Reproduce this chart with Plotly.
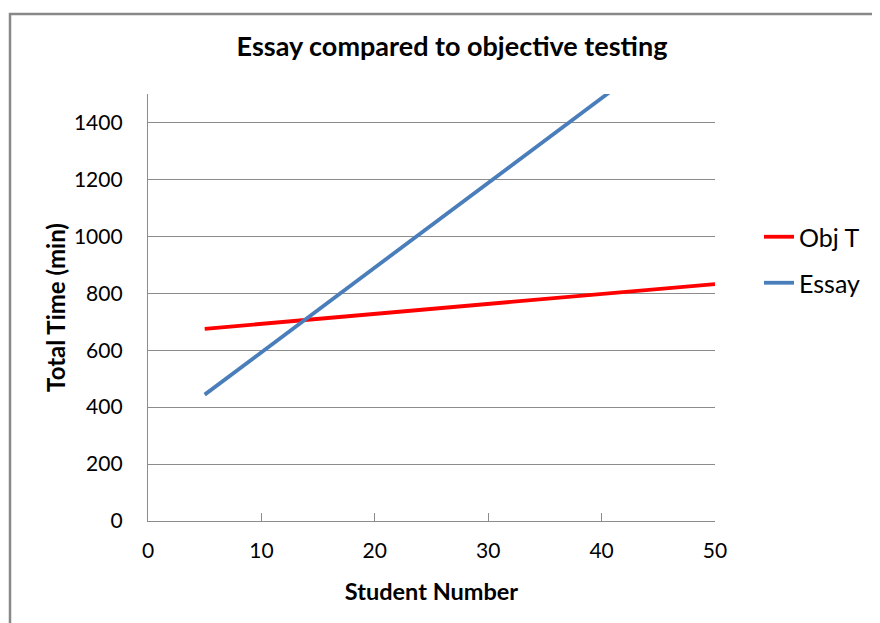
import plotly.graph_objects as go

students = [5, 10, 15, 20, 25, 30, 35, 40, 45, 50]
obj_t = [675, 692.5, 710, 727.5, 745, 762.5, 780, 797.5, 815, 832.5]
essay = [444, 593, 741, 890, 1039, 1188, 1336, 1485, 1634, 1783]

x_ticks = [0, 10, 20, 30, 40, 50]
y_ticks = [0, 200, 400, 600, 800, 1000, 1200, 1400]

OFF = 8  # page body margin
W, H = 880 - OFF, 623 - OFF
L, T = 148 - OFF, 94 - OFF
pw, ph = 567, 427
R, B = W - L - pw, H - T - ph


def px(x):
    return (x - OFF - L) / pw


def py(y):
    return (T + ph - (y - OFF)) / ph


FONT = "Lato"

fig = go.Figure()
fig.add_trace(go.Scatter(x=students, y=obj_t, mode="lines", name="Obj T",
                         line=dict(color="#FF0000", width=3.8), legend="legend"))
fig.add_trace(go.Scatter(x=students, y=essay, mode="lines", name="Essay",
                         line=dict(color="#4A7EBB", width=3.8), legend="legend2"))

leg_common = dict(xanchor="left", yanchor="middle",
                  font=dict(family=FONT, size=25, color="black"),
                  bgcolor="rgba(0,0,0,0)", borderwidth=0)

fig.update_layout(
    width=W, height=H,
    margin=dict(l=L, r=R, t=T, b=B),
    paper_bgcolor="white", plot_bgcolor="white",
    font=dict(family=FONT, color="black", size=21),
    title=dict(text="<b>Essay compared to objective testing</b>",
               xref="container", x=(452 - OFF) / W, xanchor="center",
               y=1 - (47 - OFF) / H, yanchor="middle",
               font=dict(family=FONT, size=27, color="black")),
    showlegend=True,
    legend=dict(x=px(759), y=py(237), **leg_common),
    legend2=dict(x=px(759), y=py(283), **leg_common),
    xaxis=dict(range=[0, 50], tickvals=x_ticks, showgrid=False,
               showline=True, linecolor="#8C8C8C", linewidth=1.3,
               ticks="inside", ticklen=8, tickcolor="#8C8C8C",
               tickfont=dict(size=21), zeroline=False, ticklabelstandoff=11,
               title=dict(text="<b>Student Number</b>",
                          font=dict(family=FONT, size=23.5), standoff=22)),
    yaxis=dict(range=[0, 1500], tickvals=y_ticks, showgrid=True,
               gridcolor="#8C8C8C", gridwidth=1,
               showline=True, linecolor="#8C8C8C", linewidth=1.3,
               ticks="", zeroline=False, ticklabelstandoff=20,
               tickfont=dict(size=21),
               title=dict(text="<b>Total Time (min)</b>",
                          font=dict(family=FONT, size=24), standoff=1)),
    shapes=[dict(type="rect", xref="paper", yref="paper",
                 x0=px(10), x1=px(900), y0=py(650), y1=py(14),
                 line=dict(color="#888888", width=2.5), layer="below")],
)

fig.write_html("out.html")
